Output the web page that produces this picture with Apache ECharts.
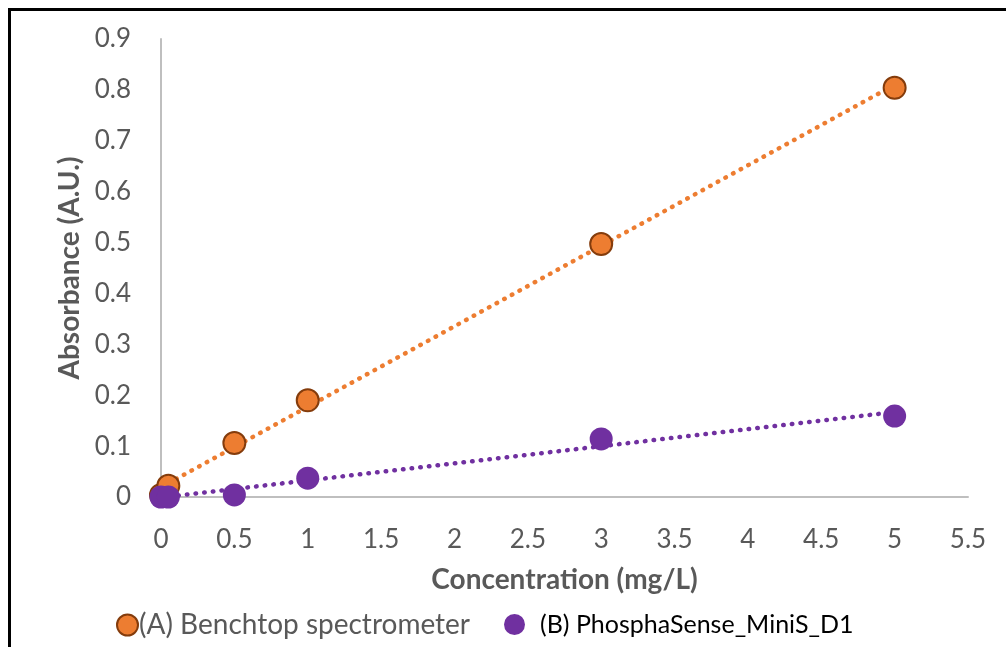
<!DOCTYPE html>
<html>
<head>
<meta charset="utf-8">
<title>Absorbance vs Concentration</title>
<script src="https://cdn.jsdelivr.net/npm/echarts@6/dist/echarts.min.js"></script>
<style>
    html, body { margin: 0; padding: 0; background: #fff; }
    #chart { width: 1006px; height: 647px; }
</style>
</head>
<body>
<div id="chart"></div>
<script>
// 浓度 (mg/L)
const concentration = [0, 0.05, 0.5, 1, 3, 5];
// (A) 台式分光光度计
const benchtop = [0.004, 0.022, 0.106, 0.19, 0.497, 0.804];
// (B) PhosphaSense
const phosphaSense = [0, 0, 0.004, 0.037, 0.114, 0.159];
// 趋势线两端 (x = 0 和 x = 5)
const trendX = [0, 5];
const trendA = [0.019, 0.81];
const trendB = [-0.001, 0.167];

const seriesNames = ["(A) Benchtop spectrometer", "(B) PhosphaSense_MiniS_D1"];
const xTickLabels = ["0", "0.5", "1", "1.5", "2", "2.5", "3", "3.5", "4", "4.5", "5", "5.5"];
const yTickLabels = ["0", "0.1", "0.2", "0.3", "0.4", "0.5", "0.6", "0.7", "0.8", "0.9"];

const 字体 = "Lato, 'Open Sans', sans-serif";
const 灰字 = "#595959";

function 配对(xs, ys) {
    var out = [];
    for (var i = 0; i < xs.length; i++) {
        out.push([xs[i], ys[i]]);
    }
    return out;
}

var myChart = echarts.init(document.getElementById("chart"));
var option = {
    animation: false,
    grid: { left: 161, right: 38, top: 39, bottom: 150 },
    // 外框
    graphic: [{
        type: "rect",
        shape: { x: 9.5, y: 9.5, width: 1100, height: 800 },
        style: { fill: "none", stroke: "#000", lineWidth: 3 },
        silent: true
    }],
    legend: [{
        data: [seriesNames[0]],
        left: 111,
        top: 606,
        icon: "circle",
        itemWidth: 21,
        itemHeight: 21,
        itemGap: 6,
        textStyle: { fontFamily: 字体, fontSize: 28, color: 灰字, padding: [0, 0, 0, -4] }
    }, {
        data: [seriesNames[1]],
        left: 499,
        top: 607,
        icon: "circle",
        itemWidth: 21,
        itemHeight: 21,
        textStyle: { fontFamily: 字体, fontSize: 25, color: "#000", padding: [0, 0, 0, 10] }
    }],
    xAxis: {
        type: "value",
        min: 0,
        max: 5.5,
        interval: 0.5,
        name: "Concentration (mg/L)",
        nameLocation: "middle",
        nameGap: 69,
        nameTextStyle: { fontFamily: 字体, fontSize: 28, fontWeight: "bold", color: 灰字 },
        axisLine: { lineStyle: { color: "#BFBFBF", width: 2 } },
        axisTick: { show: false },
        splitLine: { show: false },
        axisLabel: {
            margin: 30,
            fontFamily: 字体,
            fontSize: 26,
            color: 灰字,
            formatter: function (v) {
                return xTickLabels[Math.round(v / 0.5)];
            }
        }
    },
    yAxis: {
        type: "value",
        min: 0,
        max: 0.9,
        interval: 0.1,
        name: "Absorbance (A.U.)",
        nameLocation: "middle",
        nameGap: 76,
        nameTextStyle: { fontFamily: 字体, fontSize: 28, fontWeight: "bold", color: 灰字 },
        axisLine: { show: true, lineStyle: { color: "#BFBFBF", width: 2 } },
        axisTick: { show: false },
        splitLine: { show: false },
        axisLabel: {
            margin: 30,
            fontFamily: 字体,
            fontSize: 26,
            color: 灰字,
            formatter: function (v) {
                return yTickLabels[Math.round(v / 0.1)];
            }
        }
    },
    series: [{
        name: "trendA",
        type: "line",
        data: 配对(trendX, trendA),
        showSymbol: false,
        silent: true,
        z: 1,
        lineStyle: { color: "#ED7D31", width: 4.5, type: [0.5, 8.2], cap: "round" }
    }, {
        name: "trendB",
        type: "line",
        data: 配对(trendX, trendB),
        showSymbol: false,
        silent: true,
        z: 1,
        lineStyle: { color: "#7030A0", width: 4.5, type: [0.5, 8.2], cap: "round" }
    }, {
        name: seriesNames[0],
        type: "scatter",
        data: 配对(concentration, benchtop),
        symbolSize: 22,
        z: 3,
        itemStyle: { color: "#ED7D31", borderColor: "#843C0C", borderWidth: 2, opacity: 1 }
    }, {
        name: seriesNames[1],
        type: "scatter",
        data: 配对(concentration, phosphaSense),
        symbolSize: 23,
        z: 4,
        itemStyle: { color: "#7030A0", opacity: 1 }
    }]
};
option && myChart.setOption(option);
</script>
</body>
</html>
